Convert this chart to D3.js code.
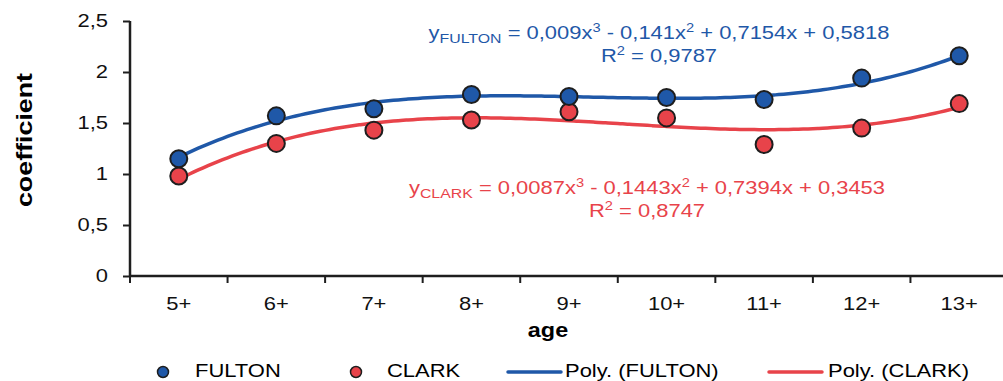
<!DOCTYPE html>
<html>
<head>
<meta charset="utf-8">
<script src="https://cdn.jsdelivr.net/npm/d3@7"></script>
<style>
  body { margin: 0; background: #fff; }
  svg { display: block; font-family: "Liberation Sans", Arial, sans-serif; }
</style>
</head>
<body>
<svg width="1003" height="381"></svg>
<script>
// data
var ages = ["5+", "6+", "7+", "8+", "9+", "10+", "11+", "12+", "13+"];
var fulton = [1.15, 1.57, 1.64, 1.78, 1.76, 1.75, 1.73, 1.94, 2.16];
var clark = [0.98, 1.30, 1.43, 1.53, 1.61, 1.55, 1.29, 1.45, 1.69];
var yTicks = [0, 0.5, 1, 1.5, 2, 2.5];

// trendline coefficients as printed (a3, a2, a1, a0)
var fultonPoly = [0.009, -0.141, 0.7154, 0.5818];
var clarkPoly = [0.0087, -0.1443, 0.7394, 0.3453];

var blue = "#1f58a8", red = "#e8434a", ink = "#1e1e1e";
var wide = 1.22; // the reference text is drawn a bit wider than plain Arial

var svg = d3.select("svg");

// widen a text horizontally around its own x
function stretch(sel, k) {
  sel.each(function () {
    var t = d3.select(this);
    var x0 = +t.attr("x") || 0;
    t.attr("transform", "translate(" + x0 * (1 - k) + ",0) scale(" + k + ",1)");
  });
}

var x = d3.scaleBand().domain(ages).range([130, 1008]);
var y = d3.scaleLinear().domain([0, 2.5]).range([276, 21]);
// polynomial x runs 1..9 over the band centres
var px = d3.scaleLinear().domain([1, 9])
  .range([x(ages[0]) + x.bandwidth() / 2, x(ages[8]) + x.bandwidth() / 2]);

// axes
var yAxis = svg.append("g").attr("transform", "translate(130,0)")
  .call(d3.axisLeft(y).tickValues(yTicks).tickSize(7).tickPadding(15)
    .tickFormat(function (d) { return String(d).replace(".", ","); }));
var xAxis = svg.append("g").attr("transform", "translate(0,276)")
  .call(d3.axisBottom(x).tickSize(0).tickPadding(21));

[yAxis, xAxis].forEach(function (a) {
  a.select(".domain").attr("stroke", ink).attr("stroke-width", 2.5);
  a.selectAll(".tick line").attr("stroke", ink).attr("stroke-width", 2);
  a.selectAll("text").attr("fill", "#111").style("font-size", "18px")
    .style("font-family", "Liberation Sans, Arial, sans-serif")
    .call(stretch, wide);
});
yAxis.select(".domain").attr("d", "M0,21V276");
xAxis.select(".domain").attr("d", "M130,0H1010");

// x ticks on band edges
svg.append("g").selectAll("line")
  .data(ages)
  .enter().append("line")
  .attr("x1", function (d) { return x(d); })
  .attr("x2", function (d) { return x(d); })
  .attr("y1", 276).attr("y2", 283)
  .attr("stroke", ink).attr("stroke-width", 2);

// axis titles
svg.append("text")
  .attr("transform", "translate(32,140) rotate(-90) scale(" + wide + ",1)")
  .attr("text-anchor", "middle")
  .style("font-size", "22px").style("font-weight", "bold")
  .text("coefficient");
svg.append("text")
  .attr("x", 548).attr("y", 337)
  .attr("text-anchor", "middle")
  .style("font-size", "20px").style("font-weight", "bold")
  .text("age")
  .call(stretch, 1.17);

// trend curves
function poly(c, t) { return c[0] * t * t * t + c[1] * t * t + c[2] * t + c[3]; }
var steps = d3.range(1, 9.001, 0.05);
var line = d3.line().curve(d3.curveBasis);

function drawTrend(c, color) {
  svg.append("path")
    .datum(steps.map(function (t) { return [px(t), y(poly(c, t))]; }))
    .attr("d", line)
    .attr("fill", "none")
    .attr("stroke", color)
    .attr("stroke-width", 3.5);
}
drawTrend(fultonPoly, blue);
drawTrend(clarkPoly, red);

// points
function drawPoints(vals, color) {
  svg.append("g").selectAll("circle")
    .data(vals)
    .enter().append("circle")
    .attr("cx", function (d, i) { return x(ages[i]) + x.bandwidth() / 2; })
    .attr("cy", function (d) { return y(d); })
    .attr("r", 8.5)
    .attr("fill", color)
    .attr("stroke", ink)
    .attr("stroke-width", 2);
}
drawPoints(clark, red);
drawPoints(fulton, blue);

// equations
function equation(yName, c, r2, cx, cy, color) {
  var fmt = function (v) { return String(Math.abs(v)).replace(".", ","); };
  var t = svg.append("text").attr("x", cx).attr("y", cy)
    .attr("text-anchor", "middle").attr("fill", color).style("font-size", "18px");
  t.append("tspan").text("y");
  t.append("tspan").attr("dy", 4).style("font-size", "13px").text(yName);
  t.append("tspan").attr("dy", -4).text(" = " + fmt(c[0]) + "x");
  t.append("tspan").attr("dy", -7).style("font-size", "12px").text("3");
  t.append("tspan").attr("dy", 7).text(" - " + fmt(c[1]) + "x");
  t.append("tspan").attr("dy", -7).style("font-size", "12px").text("2");
  t.append("tspan").attr("dy", 7).text(" + " + fmt(c[2]) + "x + " + fmt(c[3]));
  t.call(stretch, wide);

  var r = svg.append("text").attr("x", cx).attr("y", cy + 23)
    .attr("text-anchor", "middle").attr("fill", color).style("font-size", "18px");
  r.append("tspan").text("R");
  r.append("tspan").attr("dy", -7).style("font-size", "12px").text("2");
  r.append("tspan").attr("dy", 7).text(" = " + String(r2).replace(".", ","));
  r.call(stretch, wide);
}
equation("FULTON", fultonPoly, 0.9787, 659, 39, blue);
equation("CLARK", clarkPoly, 0.8747, 647, 194, red);

// legend
var legend = svg.append("g").style("font-size", "18px");
legend.append("circle").attr("cx", 163).attr("cy", 372).attr("r", 5.5)
  .attr("fill", blue).attr("stroke", ink).attr("stroke-width", 1.5);
legend.append("text").attr("x", 195).attr("y", 377).text("FULTON");
legend.append("circle").attr("cx", 356).attr("cy", 372).attr("r", 5.5)
  .attr("fill", red).attr("stroke", ink).attr("stroke-width", 1.5);
legend.append("text").attr("x", 387).attr("y", 377).text("CLARK");
legend.append("line").attr("x1", 508).attr("x2", 561).attr("y1", 372).attr("y2", 372)
  .attr("stroke", blue).attr("stroke-width", 3.5).attr("stroke-linecap", "round");
legend.append("text").attr("x", 565).attr("y", 377).text("Poly. (FULTON)");
legend.append("line").attr("x1", 769).attr("x2", 822).attr("y1", 372).attr("y2", 372)
  .attr("stroke", red).attr("stroke-width", 3.5).attr("stroke-linecap", "round");
legend.append("text").attr("x", 828).attr("y", 377).text("Poly. (CLARK)");
legend.selectAll("text").call(stretch, wide);
</script>
</body>
</html>
